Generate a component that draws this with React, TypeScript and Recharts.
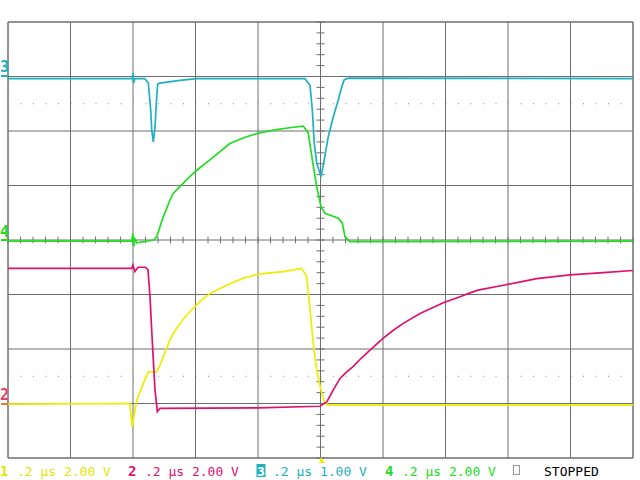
import { LineChart, Line, XAxis, YAxis, CartesianGrid, ReferenceLine } from "recharts"

// time in divisions (0..10), volts in divisions (-4..4)
const ch1Time = [0, 1.95, 1.985, 2.06, 2.165, 2.245, 2.379, 2.43, 2.485, 2.592, 2.67, 2.752, 2.85, 2.965, 3.1, 3.232, 3.499, 3.765, 4.032, 4.405, 4.699, 4.779, 4.832, 4.885, 4.939, 5.019, 5.072, 5.15, 10]
const ch1Volt = [-3.01, -3.0, -3.43, -2.94, -2.63, -2.42, -2.42, -2.3, -2.14, -1.83, -1.67, -1.53, -1.39, -1.25, -1.1, -0.98, -0.83, -0.7, -0.62, -0.58, -0.52, -0.67, -1.28, -1.9, -2.39, -2.81, -3.0, -3.03, -3.03]

const ch2Time = [0, 1.98, 2.0, 2.03, 2.08, 2.2, 2.24, 2.272, 2.299, 2.325, 2.352, 2.389, 2.43, 4.0, 4.99, 5.1, 5.205, 5.312, 5.42, 5.525, 5.65, 5.792, 6.005, 6.16, 6.325, 6.592, 6.965, 7.232, 7.392, 7.52, 7.925, 8.459, 8.992, 9.525, 10]
const ch2Volt = [-0.52, -0.52, -0.46, -0.58, -0.5, -0.5, -0.55, -1.04, -1.65, -2.2, -2.75, -3.15, -3.09, -3.08, -3.05, -2.97, -2.75, -2.54, -2.42, -2.32, -2.17, -2.02, -1.8, -1.66, -1.53, -1.35, -1.15, -1.04, -0.97, -0.92, -0.83, -0.71, -0.64, -0.6, -0.56]

const ch3Time = [0, 1.99, 2.0, 2.01, 2.03, 2.19, 2.245, 2.283, 2.3, 2.325, 2.352, 2.379, 2.395, 2.43, 2.75, 3.02, 4.75, 4.832, 4.869, 4.9, 4.94, 5.008, 5.06, 5.125, 5.205, 5.285, 5.34, 5.38, 5.45, 10]
const ch3Volt = [2.96, 2.96, 3.06, 2.88, 2.96, 2.96, 2.88, 2.39, 2.02, 1.8, 2.07, 2.62, 2.86, 2.88, 2.93, 2.96, 2.96, 2.84, 2.39, 1.78, 1.41, 1.16, 1.47, 1.9, 2.26, 2.57, 2.81, 2.94, 2.97, 2.96]

const ch4Time = [0, 1.98, 2.0, 2.01, 2.03, 2.06, 2.33, 2.38, 2.43, 2.485, 2.54, 2.59, 2.64, 2.75, 2.88, 3.02, 3.23, 3.55, 3.78, 4.005, 4.27, 4.5, 4.725, 4.805, 4.869, 4.94, 5.008, 5.072, 5.285, 5.349, 5.392, 5.472, 10]
const ch4Volt = [-0.02, -0.02, 0.12, -0.12, 0.02, -0.05, 0.0, 0.06, 0.24, 0.43, 0.58, 0.73, 0.85, 0.98, 1.13, 1.28, 1.47, 1.77, 1.88, 1.96, 2.02, 2.06, 2.09, 1.96, 1.47, 0.98, 0.61, 0.49, 0.4, 0.31, 0.06, -0.03, -0.02]

const xTicks = [0, 1, 2, 3, 4, 5, 6, 7, 8, 9, 10]
const yTicks = [-4, -3, -2, -1, 0, 1, 2, 3, 4]
const cursorLevels = [2.5, -2.5]

const legend = [
  { num: "1", text: ".2 μs 2.00 V", color: "#e6e600" },
  { num: "2", text: ".2 μs 2.00 V", color: "#e0106e" },
  { num: "3", text: ".2 μs 1.00 V", color: "#1fb0c0" },
  { num: "4", text: ".2 μs 2.00 V", color: "#22dd22" },
]

const toRows = (t: number[], v: number[]) => t.map((x, i) => ({ t: x, v: v[i] }))

const GRID = "#6e6e6e"
const mono = "'DejaVu Sans Mono', monospace"

// minor graticule marks on the centre cross
const xMinor = Array.from({ length: 51 }, (_, i) => +(i * 0.2).toFixed(1))
const yMinor = Array.from({ length: 41 }, (_, i) => +(-4 + i * 0.2).toFixed(1))

export default function App() {
  const legendX = [0, 128, 256, 385]
  return (
    <div style={{ position: "absolute", left: 0, top: 0, width: 640, height: 480, background: "#fff" }}>
      <LineChart width={640} height={480} margin={{ top: 22, right: 7, bottom: 22, left: 8 }}>
        <XAxis type="number" dataKey="t" domain={[0, 10]} ticks={xTicks} hide />
        <YAxis type="number" dataKey="v" domain={[-4, 4]} ticks={yTicks} hide />
        <CartesianGrid stroke={GRID} strokeWidth={1} />
        <ReferenceLine x={0} stroke={GRID} />
        <ReferenceLine x={10} stroke={GRID} />
        <ReferenceLine y={4} stroke={GRID} />
        <ReferenceLine y={-4} stroke={GRID} />
        {cursorLevels.map((c) => (
          <ReferenceLine key={`c${c}`} y={c} stroke="#888" strokeDasharray="1 11.5" />
        ))}
        {yMinor.map((m) => (
          <ReferenceLine key={`ym${m}`} segment={[{ x: 4.936, y: m }, { x: 5.064, y: m }]} stroke={GRID} />
        ))}
        {xMinor.map((m) => (
          <ReferenceLine key={`xm${m}`} segment={[{ x: m, y: -0.06 }, { x: m, y: 0.06 }]} stroke={GRID} />
        ))}
        <Line data={toRows(ch4Time, ch4Volt)} dataKey="v" stroke="#22dd22" strokeWidth={1.7} dot={false} isAnimationActive={false} />
        <Line data={toRows(ch3Time, ch3Volt)} dataKey="v" stroke="#1fb0c0" strokeWidth={1.7} dot={false} isAnimationActive={false} />
        <Line data={toRows(ch1Time, ch1Volt)} dataKey="v" stroke="#eeee00" strokeWidth={1.7} dot={false} isAnimationActive={false} />
        <Line data={toRows(ch2Time, ch2Volt)} dataKey="v" stroke="#e0106e" strokeWidth={1.7} dot={false} isAnimationActive={false} />
      </LineChart>
      <svg width={640} height={480} style={{ position: "absolute", left: 0, top: 0, pointerEvents: "none" }}>
        {/* channel ground markers */}
        <text x={0} y={72} fontFamily={mono} fontWeight="bold" fontSize={15} fill="#1fb0c0">3</text>
        <rect x={1} y={75} width={7} height={2} fill="#1fb0c0" />
        <text x={0} y={237} fontFamily={mono} fontWeight="bold" fontSize={15} fill="#22dd22">4</text>
        <rect x={1} y={239} width={7} height={2} fill="#22dd22" />
        <text x={0} y={400} fontFamily={mono} fontWeight="bold" fontSize={15} fill="#e8406a">2</text>
        <rect x={1} y={403} width={7} height={2} fill="#e87a30" />
        {/* trigger position */}
        <polygon points="319,463 325,463 321,457" fill="#eeee00" />
        {legend.map((l, i) => (
          <g key={l.num}>
            {l.num === "3" ? (
              <>
                <rect x={legendX[i] + 0.5} y={464} width={9} height={13} fill={l.color} />
                <text x={legendX[i] + 1} y={476} fontFamily={mono} fontWeight="bold" fontSize={13} fill="#fff">{l.num}</text>
              </>
            ) : (
              <text x={legendX[i]} y={476} fontFamily={mono} fontWeight="bold" fontSize={14} fill={l.color}>{l.num}</text>
            )}
            <text x={legendX[i] + 17} y={476} fontFamily={mono} fontSize={13} fill={l.color}>{l.text}</text>
          </g>
        ))}
        <rect x={513.5} y={465.5} width={6} height={9} fill="none" stroke="#999" />
        <text x={544} y={476} fontFamily={mono} fontSize={13} fill="#000">STOPPED</text>
      </svg>
    </div>
  )
}
